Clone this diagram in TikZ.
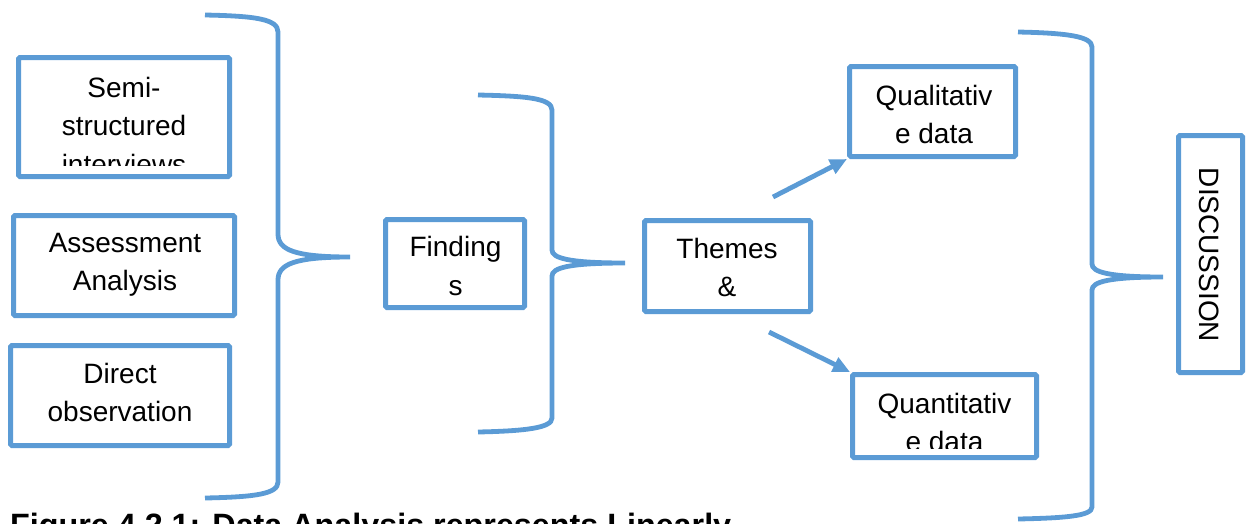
\documentclass[tikz,border=0pt]{standalone}
\usepackage{fontspec}
\setmainfont{Liberation Sans}
\usetikzlibrary{arrows.meta}
\definecolor{blu}{HTML}{5B9BD5}
\tikzset{
  box/.style={draw=blu, line width=5pt, rounded corners=1.5pt, inner sep=0pt, fill=none},
  txt/.style={inner sep=0pt, align=center, anchor=center, font=\fontsize{28}{38.5}\selectfont},
  brk/.style={draw=blu, line width=4.8pt},
  arr/.style={draw=blu, line width=4.8pt, -{Triangle[length=17pt,width=15pt]}},
}
\begin{document}
\begin{tikzpicture}[x=1pt,y=-1pt]
\useasboundingbox (0,0) rectangle (1247,523);
% boxes
\node[box, minimum width=211pt, minimum height=119pt] (semi) at (124,117) {};
\node[box, minimum width=221pt, minimum height=100pt] (assess) at (124,265.5) {};
\node[box, minimum width=219pt, minimum height=100pt] (direct) at (120,395.5) {};
\node[box, minimum width=139pt, minimum height=88pt] (find) at (455,263.5) {};
\node[box, minimum width=166pt, minimum height=91pt] (themes) at (727.5,266) {};
\node[box, minimum width=166pt, minimum height=90pt] (qual) at (932.5,111.5) {};
\node[box, minimum width=184pt, minimum height=83pt] (quant) at (944.5,416) {};
\node[box, minimum width=64pt, minimum height=237pt] (disc) at (1210.5,254) {};
% texts
\begin{scope}
\clip (0,0) rectangle (1247,165);
\node[txt] (semiT) at (124,125.7) {Semi-\\structured\\interviews};
\end{scope}
\node[txt] (assessT) at (125,265) {Assessment\\Analysis};
\node[txt] (directT) at (120,392.4) {Direct\\observation};
\node[txt] (findT) at (455.5,266) {Finding\\s};
\node[txt] (themesT) at (727,267.5) {Themes\\\&};
\node[txt] (qualT) at (934,114.5) {Qualitativ\\e data};
\begin{scope}
\clip (0,0) rectangle (1247,448);
\node[txt] (quantT) at (944.5,422.5) {Quantitativ\\e data};
\end{scope}
\node[txt, rotate=-90] (discT) at (1209,255) {DISCUSSION};
% brackets
\coordinate (b1) at (350,257);
\coordinate (b2) at (625,263);
\coordinate (b3) at (1163,277);
\draw[brk] (205,15) .. controls (255,16) and (278,19) .. (278,32) -- (278,234)
  .. controls (278,250) and (295,257) .. (b1)
  .. controls (295,257) and (278,264) .. (278,280) -- (278,482)
  .. controls (278,494) and (255,497) .. (205,498);
\draw[brk] (478,95) .. controls (525,96) and (552,98) .. (552,110) -- (552,250)
  .. controls (552,258) and (568,263) .. (b2)
  .. controls (568,263) and (552,268) .. (552,276) -- (552,418)
  .. controls (552,428) and (525,431) .. (478,432);
\draw[brk] (1018,32) .. controls (1065,33) and (1092,36) .. (1092,47) -- (1092,264)
  .. controls (1092,272) and (1108,277) .. (b3)
  .. controls (1108,277) and (1092,282) .. (1092,290) -- (1092,507)
  .. controls (1092,516) and (1065,518) .. (1018,519);
% arrows
\coordinate (a1) at (773,197);
\coordinate (a2) at (769,332);
\draw[arr] (a1) -- (qual.south west);
\draw[arr] (a2) -- (quant.north west);
% caption (cut by the lower edge, as in the reference)
\node[anchor=base west, inner sep=0pt, font=\fontsize{32.3}{38}\selectfont\bfseries] (cap) at (10,536) {Figure 4.2.1: Data Analysis represents Linearly};
\end{tikzpicture}
\end{document}
